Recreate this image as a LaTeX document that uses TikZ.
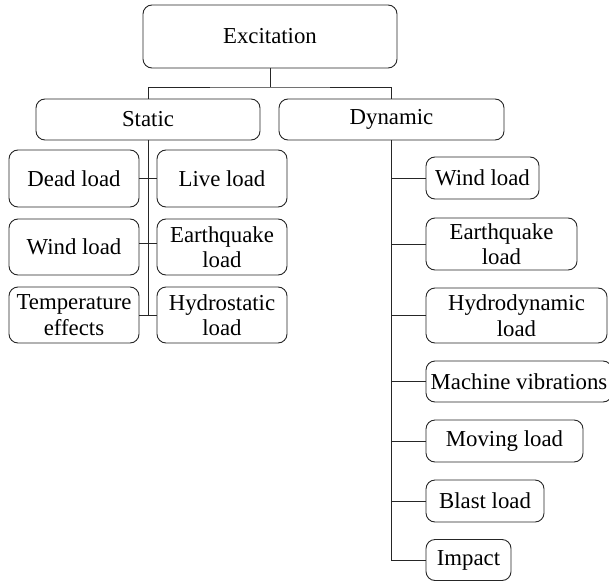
\documentclass[tikz,border=0pt]{standalone}
\usepackage{fontspec}
\setmainfont{Liberation Serif}
\begin{document}
\begin{tikzpicture}[x=1pt,y=-1pt,
  box/.style={draw=black!85, line width=0.9pt, rounded corners=9pt, inner sep=0pt,
    align=center, font=\fontsize{22.8}{25.5}\selectfont, text=black},
  link/.style={draw=black!85, line width=0.9pt}]
\useasboundingbox (0,0) rectangle (609,580);
% top
\node[box, minimum width=254pt, minimum height=63pt] (exc) at (270,36.5) {Excitation};
\node[box, minimum width=224pt, minimum height=41pt] (stat) at (148,119.5) {Static};
\node[box, minimum width=225pt, minimum height=41pt] (dyn) at (391.5,119.5) {Dynamic};
\coordinate (j) at (270,87);
% static children
\node[box, minimum width=130pt, minimum height=57pt] (dead) at (74,178.5) {Dead load};
\node[box, minimum width=130pt, minimum height=57pt] (live) at (222,178.5) {Live load};
\node[box, minimum width=130pt, minimum height=56pt] (swind) at (74,247) {Wind load};
\node[box, minimum width=130pt, minimum height=56pt] (seq) at (222,247) {Earthquake\\load};
\node[box, minimum width=130pt, minimum height=56pt] (temp) at (74,315) {Temperature\\effects};
\node[box, minimum width=130pt, minimum height=56pt] (hydro) at (222,315) {Hydrostatic\\load};
% dynamic children
\node[box, minimum width=113pt, minimum height=42pt] (dwind) at (482.5,178) {Wind load};
\node[box, minimum width=151pt, minimum height=52pt] (deq) at (501.5,244) {Earthquake\\load};
\node[box, minimum width=181pt, minimum height=55pt] (hyd) at (516.5,315.5) {Hydrodynamic\\load};
\node[box, minimum width=186pt, minimum height=41pt] (mach) at (519,381.5) {Machine vibrations};
\node[box, minimum width=157pt, minimum height=42pt] (mov) at (504.5,441) {Moving load};
\node[box, minimum width=118pt, minimum height=42pt] (blast) at (485,501) {Blast load};
\node[box, minimum width=85pt, minimum height=41pt] (imp) at (468.5,560) {Impact};
% connectors top
\draw[link] (exc.south) -- (j);
\draw[link] (stat.north) |- (j) -| (dyn.north);
% static connectors
\draw[link] (stat.south) -- (stat.south |- temp.east);
\draw[link] (dead.east) -- (live.west);
\draw[link] (swind.east |- 0,243) -- (seq.west |- 0,243);
\draw[link] (temp.east) -- (hydro.west);
% dynamic connectors
\draw[link] (dyn.south) |- (imp.west);
\draw[link] (dyn.south |- dwind.west) -- (dwind.west);
\draw[link] (dyn.south |- deq.west) -- (deq.west);
\draw[link] (dyn.south |- hyd.west) -- (hyd.west);
\draw[link] (dyn.south |- mach.west) -- (mach.west);
\draw[link] (dyn.south |- mov.west) -- (mov.west);
\draw[link] (dyn.south |- blast.west) -- (blast.west);
\end{tikzpicture}
\end{document}
